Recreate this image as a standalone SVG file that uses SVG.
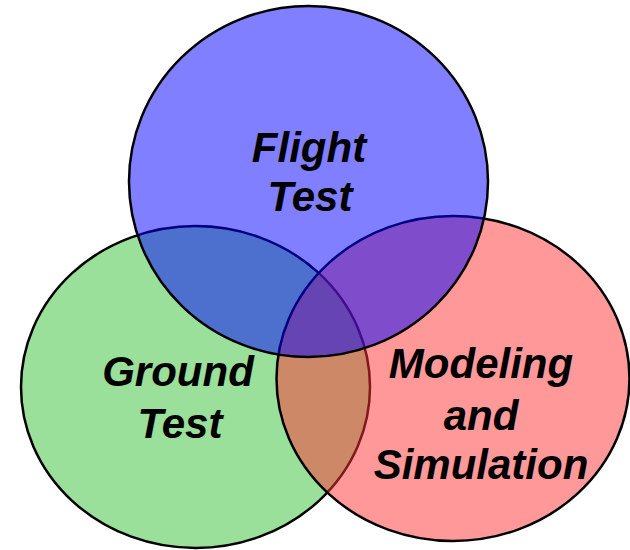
<svg xmlns="http://www.w3.org/2000/svg" width="630" height="550" viewBox="0 0 630 550">
<style>
.set{stroke:#000;stroke-width:2.5;fill-opacity:0.5}
.lbl{font-family:"Liberation Sans",Arial,sans-serif;font-weight:bold;font-style:italic;font-size:42px;fill:#000;text-anchor:middle}
</style>
<rect width="630" height="550" fill="#fff"/>
<g id="ground-test">
<ellipse class="set" cx="195.5" cy="387" rx="174.5" ry="161" fill="#35BF35"/>
</g>
<g id="modeling-simulation">
<ellipse class="set" cx="453" cy="378.5" rx="176.5" ry="162.5" fill="#FF3333"/>
</g>
<g id="flight-test">
<ellipse class="set" cx="308.5" cy="181.5" rx="179.5" ry="175.5" fill="#0000FF"/>
</g>
<g id="labels">
<text class="lbl" x="309" y="162">Flight</text>
<text class="lbl" x="310" y="211">Test</text>
<text class="lbl" x="178" y="386">Ground</text>
<text class="lbl" x="180" y="438">Test</text>
<text class="lbl" x="481" y="378">Modeling</text>
<text class="lbl" x="481" y="430">and</text>
<text class="lbl" x="481" y="479">Simulation</text>
</g>
</svg>
